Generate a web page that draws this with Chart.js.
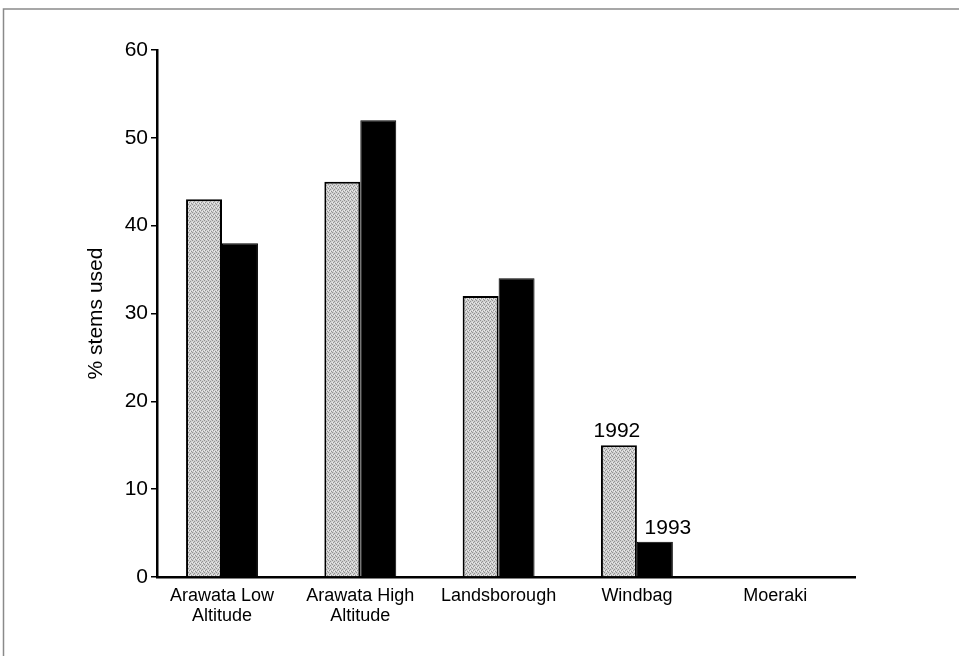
<!DOCTYPE html>
<html>
<head>
<meta charset="utf-8">
<script src="https://cdn.jsdelivr.net/npm/chart.js@4.4.1/dist/chart.umd.min.js"></script>
<style>
  html, body { margin: 0; padding: 0; background: #fff; }
  #wrap { width: 959px; height: 656px; position: relative; }
</style>
</head>
<body>
<div id="wrap"><canvas id="c" width="959" height="656"></canvas></div>
<script>
const categories = [["Arawata Low", "Altitude"], ["Arawata High", "Altitude"], "Landsborough", "Windbag", "Moeraki"];
const values1992 = [43, 45, 32, 15, 0];
const values1993 = [38, 52, 34, 4, 0];
const seriesNames = ["1992", "1993"];
const yTicks = [0, 10, 20, 30, 40, 50, 60];
const yTitle = "% stems used";
const annotatedIndex = 3;

// stipple pattern for the light bars
function makeStipple() {
  const p = document.createElement('canvas');
  p.width = 4; p.height = 4;
  const g = p.getContext('2d');
  g.fillStyle = '#d0d0d0';
  g.fillRect(0, 0, 4, 4);
  g.fillStyle = '#929292';
  [[0,0],[2,1],[1,2],[3,3]].forEach(([x,y]) => g.fillRect(x, y, 1, 1));
  g.fillStyle = '#ededed';
  [[2,3],[0,2]].forEach(([x,y]) => g.fillRect(x, y, 1, 1));
  return g.createPattern(p, 'repeat');
}

const FONT = "'Liberation Sans', Arial, Helvetica, sans-serif";

const framePlugin = {
  id: 'frame',
  beforeDraw(chart) {
    const ctx = chart.ctx;
    ctx.save();
    ctx.fillStyle = '#fff';
    ctx.fillRect(0, 0, chart.width, chart.height);
    ctx.strokeStyle = '#8a8a8a';
    ctx.lineWidth = 1.5;
    ctx.beginPath();
    ctx.moveTo(3.5, 656);
    ctx.lineTo(3.5, 9);
    ctx.lineTo(959, 9);
    ctx.stroke();
    ctx.restore();
  }
};

// shift the category range a little so the groups sit like the original
const categoryShiftPlugin = {
  id: 'categoryShift',
  afterLayout(chart) {
    const x = chart.scales.x;
    if (x && typeof x._startValue === 'number') {
      x._startValue = -0.47;
      x._valueRange = 5.047;
    }
  }
};

const yearLabelPlugin = {
  id: 'yearLabels',
  afterDatasetsDraw(chart) {
    const ctx = chart.ctx;
    ctx.save();
    ctx.font = "21px " + FONT;
    ctx.fillStyle = '#000';
    ctx.textAlign = 'center';
    ctx.textBaseline = 'alphabetic';
    const b0 = chart.getDatasetMeta(0).data[annotatedIndex];
    const b1 = chart.getDatasetMeta(1).data[annotatedIndex];
    ctx.fillText(seriesNames[0], b0.x - 2, b0.y - 8);
    ctx.fillText(seriesNames[1], b1.x + 13, b1.y - 8);
    ctx.restore();
  }
};

new Chart(document.getElementById('c'), {
  type: 'bar',
  data: {
    labels: categories,
    datasets: [
      { label: seriesNames[0], data: values1992, backgroundColor: makeStipple(),
        borderColor: '#000', borderWidth: 2, borderSkipped: 'bottom' },
      { label: seriesNames[1], data: values1993, backgroundColor: '#000',
        borderColor: '#000', borderWidth: 1, borderSkipped: 'bottom' }
    ]
  },
  options: {
    responsive: false,
    animation: false,
    devicePixelRatio: 1,
    layout: { padding: { left: 76, top: 50, right: 104, bottom: 0 } },
    datasets: { bar: { categoryPercentage: 0.52, barPercentage: 1.0 } },
    plugins: { legend: { display: false }, tooltip: { enabled: false } },
    scales: {
      x: {
        grid: { display: false, drawTicks: false },
        border: { display: true, color: '#000', width: 2.5 },
        ticks: { color: '#000', font: { family: FONT, size: 18, lineHeight: 1.1 }, padding: 9, maxRotation: 0, autoSkip: false },
        afterFit(s) { s.height = 79; }
      },
      y: {
        min: 0, max: 60,
        afterBuildTicks(s) { s.ticks = yTicks.map(v => ({ value: v })); },
        grid: { drawOnChartArea: false, drawTicks: true, tickLength: 6, color: '#000', lineWidth: 1.5 },
        border: { display: true, color: '#000', width: 2.5 },
        ticks: { color: '#000', font: { family: FONT, size: 21 }, padding: 3 },
        title: { display: true, text: yTitle, color: '#000', font: { family: FONT, size: 21 }, padding: { top: 8, bottom: 0 } },
        afterFit(s) { s.width = 81; }
      }
    }
  },
  plugins: [framePlugin, categoryShiftPlugin, yearLabelPlugin]
});
</script>
</body>
</html>
